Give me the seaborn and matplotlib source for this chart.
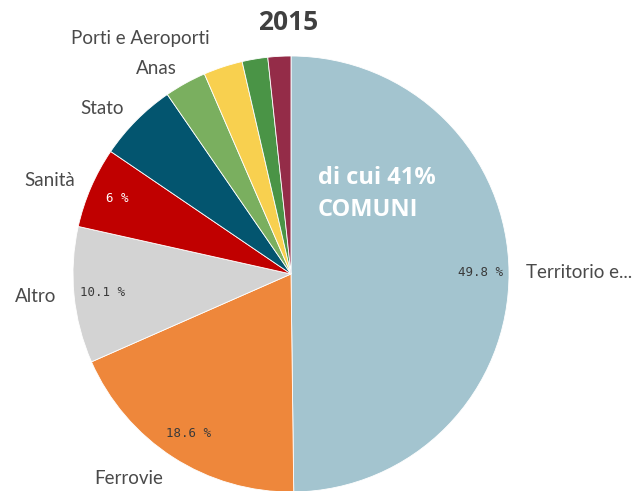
import matplotlib
matplotlib.use("Agg")
import matplotlib.pyplot as plt
import seaborn as sns

sns.set_theme(style="white")
plt.rcParams['font.family'] = ['Lato', 'DejaVu Sans']

categories = ["Territorio e...", "Ferrovie", "Altro", "Sanità", "Stato", "Anas",
              "Porti e Aeroporti", "", ""]
values = [49.8, 18.6, 10.1, 6.0, 5.9, 3.1, 2.9, 1.9, 1.7]
pct_labels = ["49.8 %", "18.6 %", "10.1 %", "6 %", "", "", "", "", ""]
colors = ["#a3c4cf", "#ee873b", "#d3d3d3", "#c00000", "#03556f", "#7aaf5f",
          "#f8d04f", "#4a9446", "#942c48"]
pct_colors = ["#3a3a3a", "#3a3a3a", "#3a3a3a", "white", "white", "white", "white", "white", "white"]
title = "2015"
note = "di cui 41%\nCOMUNI"

W, H = 641, 491
fig = plt.figure(figsize=(W / 100, H / 100), dpi=100)
cx, cy, r = 291, 274, 218
ax = fig.add_axes([(cx - r) / W, (H - cy - r) / H, 2 * r / W, 2 * r / H])

wedges, texts, autotexts = ax.pie(
    values, labels=categories, colors=colors, startangle=90, counterclock=False,
    autopct="%1.1f", pctdistance=0.87, labeldistance=1.08,
    wedgeprops=dict(edgecolor="white", linewidth=0.6),
    textprops=dict(fontsize=13.5, color="#4a4a4a"))
for t, lab, c in zip(autotexts, pct_labels, pct_colors):
    t.set_text(lab)
    t.set_color(c)
    t.set_fontfamily("DejaVu Sans Mono")
    t.set_fontsize(9)
ax.set_xlim(-1, 1)
ax.set_ylim(-1, 1)
ax.set_aspect("equal")
ax.axis("off")

# nudge the crowded "Porti e Aeroporti" label and Ferrovie
x, y = texts[6].get_position()
texts[6].set_position((x - 0.035, y + 0.055))
x, y = texts[1].get_position()
texts[1].set_position((x, y - 0.03))

fig.text(288 / W, 1 - 22 / H, title, ha="center", va="center", fontsize=19,
         fontweight="bold", color="#404040", family=["Open Sans", "DejaVu Sans"])
fig.text(318 / W, 1 - 194 / H, note, ha="left", va="center", fontsize=17,
         fontweight="bold", color="white", linespacing=1.45,
         family=["Open Sans", "DejaVu Sans"])

fig.savefig("out.png", dpi=100)
